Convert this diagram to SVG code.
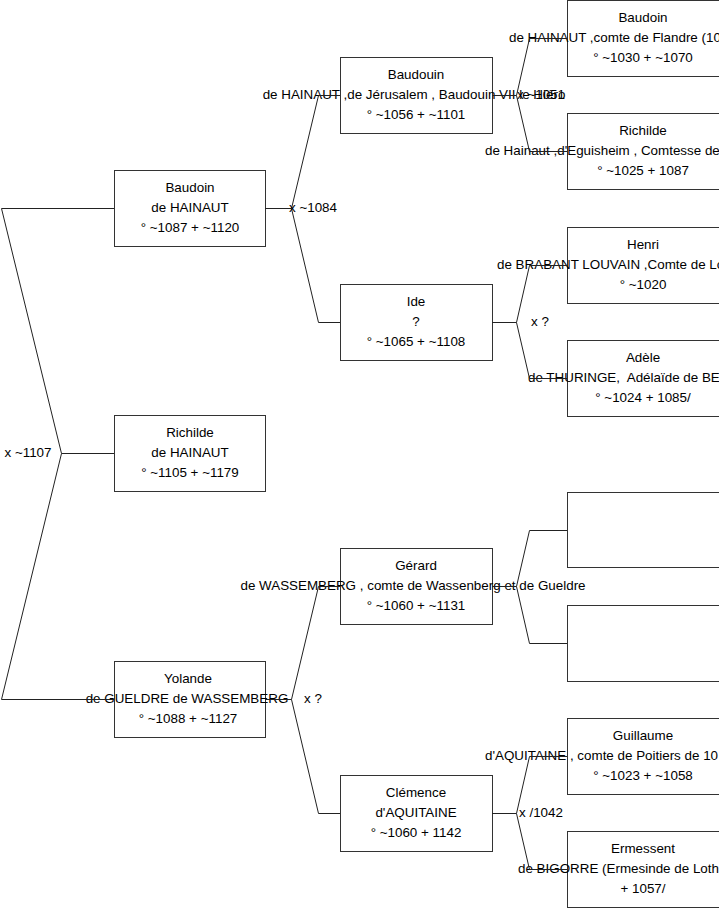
<svg xmlns="http://www.w3.org/2000/svg" width="719" height="908" viewBox="0 0 719 908">
<style>
.box{fill:#fff;stroke:#333;stroke-width:1}
text{font-family:"Liberation Sans",Arial,sans-serif;font-size:13.4px;fill:#000;white-space:pre}
.c{text-anchor:middle}
.lbl{text-anchor:middle}
.con{fill:none;stroke:#222;stroke-width:1}
</style>
<rect width="719" height="908" fill="#fff"/>
<g id="n-baudoin-1087">
<rect class="box" x="114.5" y="170.5" width="151" height="76"/>
<text class="c" x="190" y="192">Baudoin</text>
<text class="c" x="190" y="212">de HAINAUT</text>
<text class="c" x="190" y="232">° ~1087 + ~1120</text>
</g>
<g id="n-richilde-1105">
<rect class="box" x="114.5" y="415.5" width="151" height="76"/>
<text class="c" x="190" y="437">Richilde</text>
<text class="c" x="190" y="457">de HAINAUT</text>
<text class="c" x="190" y="477">° ~1105 + ~1179</text>
</g>
<g id="n-yolande-1088">
<rect class="box" x="114.5" y="661.5" width="151" height="76"/>
<text class="c" x="188" y="683">Yolande</text>
<text class="c" x="187" y="703">de GUELDRE de WASSEMBERG</text>
<text class="c" x="188" y="723">° ~1088 + ~1127</text>
</g>
<g id="n-baudouin-1056">
<rect class="box" x="340.5" y="57.5" width="152" height="76"/>
<text class="c" x="416" y="79">Baudouin</text>
<text class="c" x="414" y="99">de HAINAUT ,de Jérusalem , Baudouin VII le Hiéro</text>
<text class="c" x="416" y="119">° ~1056 + ~1101</text>
</g>
<g id="n-ide-1065">
<rect class="box" x="340.5" y="284.5" width="152" height="76"/>
<text class="c" x="416" y="306">Ide</text>
<text class="c" x="416" y="326">?</text>
<text class="c" x="416" y="346">° ~1065 + ~1108</text>
</g>
<g id="n-gerard-1060">
<rect class="box" x="340.5" y="548.5" width="152" height="76"/>
<text class="c" x="416" y="570">Gérard</text>
<text class="c" x="413" y="590">de WASSEMBERG , comte de Wassenberg et de Gueldre</text>
<text class="c" x="416" y="610">° ~1060 + ~1131</text>
</g>
<g id="n-clemence-1060">
<rect class="box" x="340.5" y="775.5" width="152" height="76"/>
<text class="c" x="416" y="797">Clémence</text>
<text class="c" x="416" y="817">d'AQUITAINE</text>
<text class="c" x="416" y="837">° ~1060 + 1142</text>
</g>
<g id="n-baudoin-1030">
<rect class="box" x="567.5" y="0.5" width="152" height="76"/>
<text class="c" x="643" y="22">Baudoin</text>
<text x="509" y="42">de HAINAUT ,comte de Flandre (10</text>
<text class="c" x="643" y="62">° ~1030 + ~1070</text>
</g>
<g id="n-richilde-1025">
<rect class="box" x="567.5" y="113.5" width="152" height="76"/>
<text class="c" x="643" y="135">Richilde</text>
<text x="485" y="155">de Hainaut ,d'Eguisheim , Comtesse de</text>
<text class="c" x="643" y="175">° ~1025 + 1087</text>
</g>
<g id="n-henri-1020">
<rect class="box" x="567.5" y="227.5" width="152" height="76"/>
<text class="c" x="643" y="249">Henri</text>
<text x="497" y="269">de BRABANT LOUVAIN ,Comte de Lo</text>
<text class="c" x="643" y="289">° ~1020</text>
</g>
<g id="n-adele-1024">
<rect class="box" x="567.5" y="340.5" width="152" height="76"/>
<text class="c" x="643" y="362">Adèle</text>
<text x="528" y="382">de THURINGE,  Adélaïde de BE</text>
<text class="c" x="643" y="402">° ~1024 + 1085/</text>
</g>
<g id="n-empty-1">
<rect class="box" x="567.5" y="492.5" width="152" height="75"/>
</g>
<g id="n-empty-2">
<rect class="box" x="567.5" y="605.5" width="152" height="76"/>
</g>
<g id="n-guillaume-1023">
<rect class="box" x="567.5" y="718.5" width="152" height="76"/>
<text class="c" x="643" y="740">Guillaume</text>
<text x="485" y="760">d'AQUITAINE , comte de Poitiers de 10</text>
<text class="c" x="643" y="780">° ~1023 + ~1058</text>
</g>
<g id="n-ermessent">
<rect class="box" x="567.5" y="831.5" width="152" height="76"/>
<text class="c" x="643" y="853">Ermessent</text>
<text x="518" y="873">de BIGORRE (Ermesinde de Loth</text>
<text class="c" x="643" y="893">+ 1057/</text>
</g>
<g id="connectors">
<path class="con" d="M114,208.5 H1.5 L61.5,453.5 H114 M61.5,453.5 L1.5,699.5 H114"/>
<path class="con" d="M265,208.5 H291.5 L318.5,95.5 H340 M291.5,208.5 L318.5,322.5 H340"/>
<path class="con" d="M265,699.5 H291.5 L318.5,586.5 H340 M291.5,699.5 L318.5,813.5 H340"/>
<path class="con" d="M492,95.5 H516.5 L529.5,38.5 H567 M516.5,95.5 L529.5,151.5 H567"/>
<path class="con" d="M492,322.5 H516.5 L529.5,265.5 H567 M516.5,322.5 L529.5,378.5 H567"/>
<path class="con" d="M492,586.5 H516.5 L529.5,530.5 H567 M516.5,586.5 L529.5,643.5 H567"/>
<path class="con" d="M492,813.5 H516.5 L529.5,756.5 H567 M516.5,813.5 L529.5,869.5 H567"/>
<text class="lbl" x="28" y="457">x ~1107</text>
<text class="lbl" x="313" y="212">x ~1084</text>
<text class="lbl" x="313" y="703">x ?</text>
<text class="lbl" x="541" y="99">x ~1051</text>
<text class="lbl" x="540" y="326">x ?</text>
<text class="lbl" x="541" y="817">x /1042</text>
</g>
</svg>
